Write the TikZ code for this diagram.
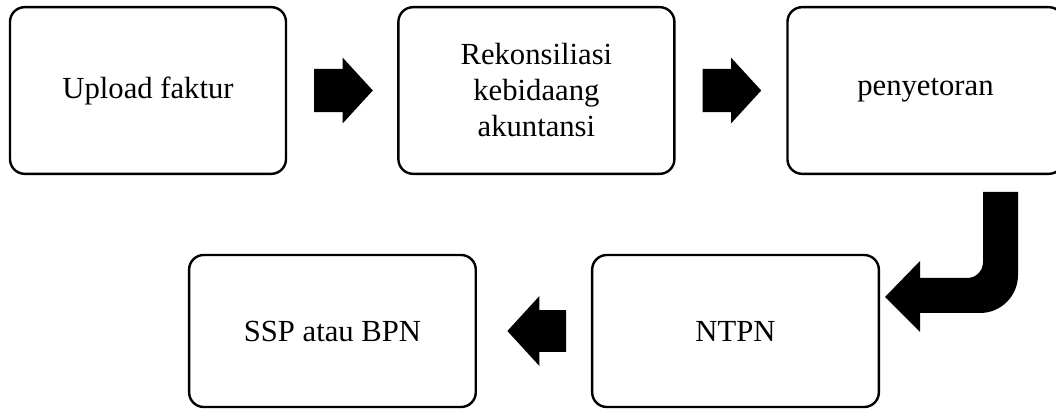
\documentclass[tikz,border=0pt]{standalone}
\usepackage{fontspec}
\setmainfont{Liberation Serif}
\usetikzlibrary{positioning,shapes.arrows}

\begin{document}
\begin{tikzpicture}[
    x=0.75pt, y=-0.75pt,
    box/.style={rectangle, draw=black, line width=1.8pt, minimum height=125pt, minimum width=207pt, align=center, font=\fontsize{23}{27}\selectfont, rounded corners=11pt},
    lowbox/.style={box, minimum height=114pt, minimum width=215pt},
    blockarr/.style={single arrow, fill=black, draw=none, inner xsep=0pt, inner ysep=16pt, minimum height=44pt, single arrow head extend=8.5pt, single arrow tip angle=95}
]
\useasboundingbox (0,0) rectangle (1056,409);

\node[box] (upload) at (148,90.5) {Upload faktur};
\node[box, right=82.5pt of upload] (rekon) {Rekonsiliasi\\kebidaang\\akuntansi};
\node[box, right=83pt of rekon] (setor) {penyetoran};
\node[lowbox] (ntpn) at (735.5,331) {NTPN};
\node[lowbox, left=85.5pt of ntpn] (ssp) {SSP atau BPN};

\node[blockarr, right=20pt of upload] (a1) {};
\node[blockarr, right=20pt of rekon] (a2) {};
\node[blockarr, shape border rotate=180, inner ysep=15.5pt, single arrow head extend=10.5pt, left=18.5pt of ntpn] (a4) {};

% bent arrow from penyetoran down to NTPN
\fill (983,192) -- (1018,192) -- (1018,275)
  .. controls (1018,296) and (1001,313) .. (980,313)
  -- (920,313) -- (920,332) -- (885,297) -- (920,261) -- (920,278) -- (967,278)
  .. controls (976,278) and (983,271) .. (983,262) -- cycle;
\end{tikzpicture}
\end{document}
